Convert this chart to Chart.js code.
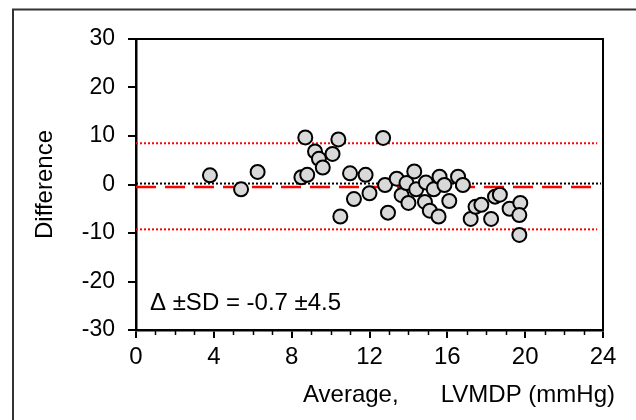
<!DOCTYPE html>
<html>
<head>
<meta charset="utf-8">
<script src="https://cdn.jsdelivr.net/npm/chart.js@4"></script>
<style>
  html, body { margin: 0; padding: 0; background: #fff; }
  canvas { display: block; }
</style>
</head>
<body>
<canvas id="myChart" width="636" height="420"></canvas>
<script>
// Bland-Altman data
const avgValues = [3.8, 5.4, 6.25, 8.5, 8.8, 8.7, 9.2, 9.4, 9.6, 10.1, 10.4, 10.5, 11.0, 11.2, 11.8,
    12.0, 12.7, 12.8, 12.95, 13.4, 13.65, 13.9, 14.0, 14.3, 14.4, 14.9, 14.85, 15.1, 15.3, 15.55,
    15.6, 15.85, 16.1, 16.55, 16.8, 17.2, 17.45, 17.75, 18.25, 18.45, 18.7, 19.2, 19.75, 19.7, 19.7];
const diffValues = [1.9, -1.0, 2.6, 1.5, 2.0, 9.7, 6.8, 5.3, 3.5, 6.3, 9.3, -6.6, 2.3, -3.0, 2.0,
    -1.8, 9.6, -0.1, -5.8, 1.2, -2.2, 0.3, -3.8, 2.7, -1.0, 0.4, -3.6, -5.4, -1.0, -6.6,
    1.6, -0.1, -3.4, 1.6, -0.1, -7.1, -4.6, -4.2, -7.1, -2.5, -2.1, -5.0, -3.8, -6.3, -10.4];
const meanDiff = -0.5;
const upperLoA = 8.5;
const lowerLoA = -9.25;
const zeroLine = 0.2;
const lineRange = [0, 23.7];
const statText = 'Δ ±SD = -0.7 ±4.5';

const font = "'Liberation Sans', Arial, sans-serif";
Chart.defaults.font.family = font;
Chart.defaults.font.size = 22;
Chart.defaults.color = '#000';

const points = avgValues.map((x, i) => ({ x: x, y: diffValues[i] }));
const hLine = (y, x1) => [{ x: lineRange[0], y: y }, { x: x1, y: y }];

// frame, box, minor ticks and texts
const extras = {
    id: 'extras',
    beforeDraw(chart) {
        const c = chart.ctx;
        c.save();
        c.strokeStyle = '#333';
        c.lineWidth = 2;
        c.strokeRect(13, 9.5, 700, 500);
        c.restore();
    },
    afterDraw(chart) {
        const c = chart.ctx;
        const a = chart.chartArea;
        const xs = chart.scales.x;
        c.save();
        c.strokeStyle = '#000';
        c.lineWidth = 2;
        c.beginPath();
        c.moveTo(a.left, a.top);
        c.lineTo(a.right, a.top);
        c.lineTo(a.right, a.bottom + 1);
        c.stroke();
        c.lineWidth = 1.5;
        for (let v = 0; v <= 24; v++) {
            if (v % 4 === 0) continue;
            const px = Math.round(xs.getPixelForValue(v)) + 0.5;
            c.beginPath();
            c.moveTo(px, a.bottom);
            c.lineTo(px, a.bottom + 5);
            c.stroke();
        }
        c.fillStyle = '#000';
        c.font = '24px ' + font;
        c.textBaseline = 'alphabetic';
        c.textAlign = 'left';
        c.fillText(statText, 150, 310);
        c.fillText('Average,', 303, 402);
        c.textAlign = 'right';
        c.fillText('LVMDP (mmHg)', 615, 402);
        c.restore();
    }
};

const ctx = document.getElementById('myChart').getContext('2d');

const data = {
    datasets: [{
        label: 'Difference',
        data: points,
        pointRadius: 7,
        pointBackgroundColor: '#d9d9d9',
        pointBorderColor: '#000',
        pointBorderWidth: 2,
        showLine: false
    }, {
        label: 'Zero',
        data: hLine(zeroLine, 23.9),
        showLine: true,
        borderColor: '#000',
        borderWidth: 2,
        borderDash: [2, 2],
        pointRadius: 0
    }, {
        label: 'Mean',
        data: hLine(meanDiff, lineRange[1]),
        showLine: true,
        borderColor: '#ff0000',
        borderWidth: 2.5,
        borderDash: [20, 9],
        pointRadius: 0
    }, {
        label: 'Upper',
        data: hLine(upperLoA, lineRange[1]),
        showLine: true,
        borderColor: '#ff0000',
        borderWidth: 2,
        borderDash: [2, 2],
        pointRadius: 0
    }, {
        label: 'Lower',
        data: hLine(lowerLoA, lineRange[1]),
        showLine: true,
        borderColor: '#ff0000',
        borderWidth: 2,
        borderDash: [2, 2],
        pointRadius: 0
    }]
};

const config = {
    type: 'scatter',
    data: data,
    options: {
        responsive: false,
        animation: false,
        devicePixelRatio: 1,
        layout: { padding: { left: 0, top: 39, right: 33, bottom: 30 } },
        plugins: {
            legend: { display: false },
            tooltip: { enabled: false }
        },
        scales: {
            x: {
                type: 'linear',
                min: 0,
                max: 24,
                afterFit: s => { s.height = 60; },
                ticks: {
                    stepSize: 1,
                    autoSkip: false,
                    maxRotation: 0,
                    padding: 5,
                    color: '#000',
                    font: { family: font, size: 24 },
                    callback: v => (v % 4 === 0 ? v : '')
                },
                grid: {
                    drawOnChartArea: false,
                    tickLength: 8,
                    lineWidth: 2,
                    color: c => (c.tick && c.tick.value % 4 === 0 ? '#000' : 'rgba(0,0,0,0)')
                },
                border: { color: '#000', width: 2.5 }
            },
            y: {
                type: 'linear',
                min: -30,
                max: 30,
                afterFit: s => { s.width = 136; },
                ticks: {
                    stepSize: 5,
                    padding: 13,
                    color: '#000',
                    font: { family: font, size: 23 },
                    callback: v => (v % 10 === 0 ? v : '')
                },
                grid: {
                    drawOnChartArea: false,
                    tickLength: 8,
                    lineWidth: 2,
                    color: '#000'
                },
                border: { color: '#000', width: 2.5 },
                title: {
                    display: true,
                    text: 'Difference',
                    color: '#000',
                    font: { family: font, size: 24 },
                    padding: { top: 31, bottom: 0 }
                }
            }
        }
    },
    plugins: [extras]
};

const myChart = new Chart(ctx, config);
</script>
</body>
</html>
